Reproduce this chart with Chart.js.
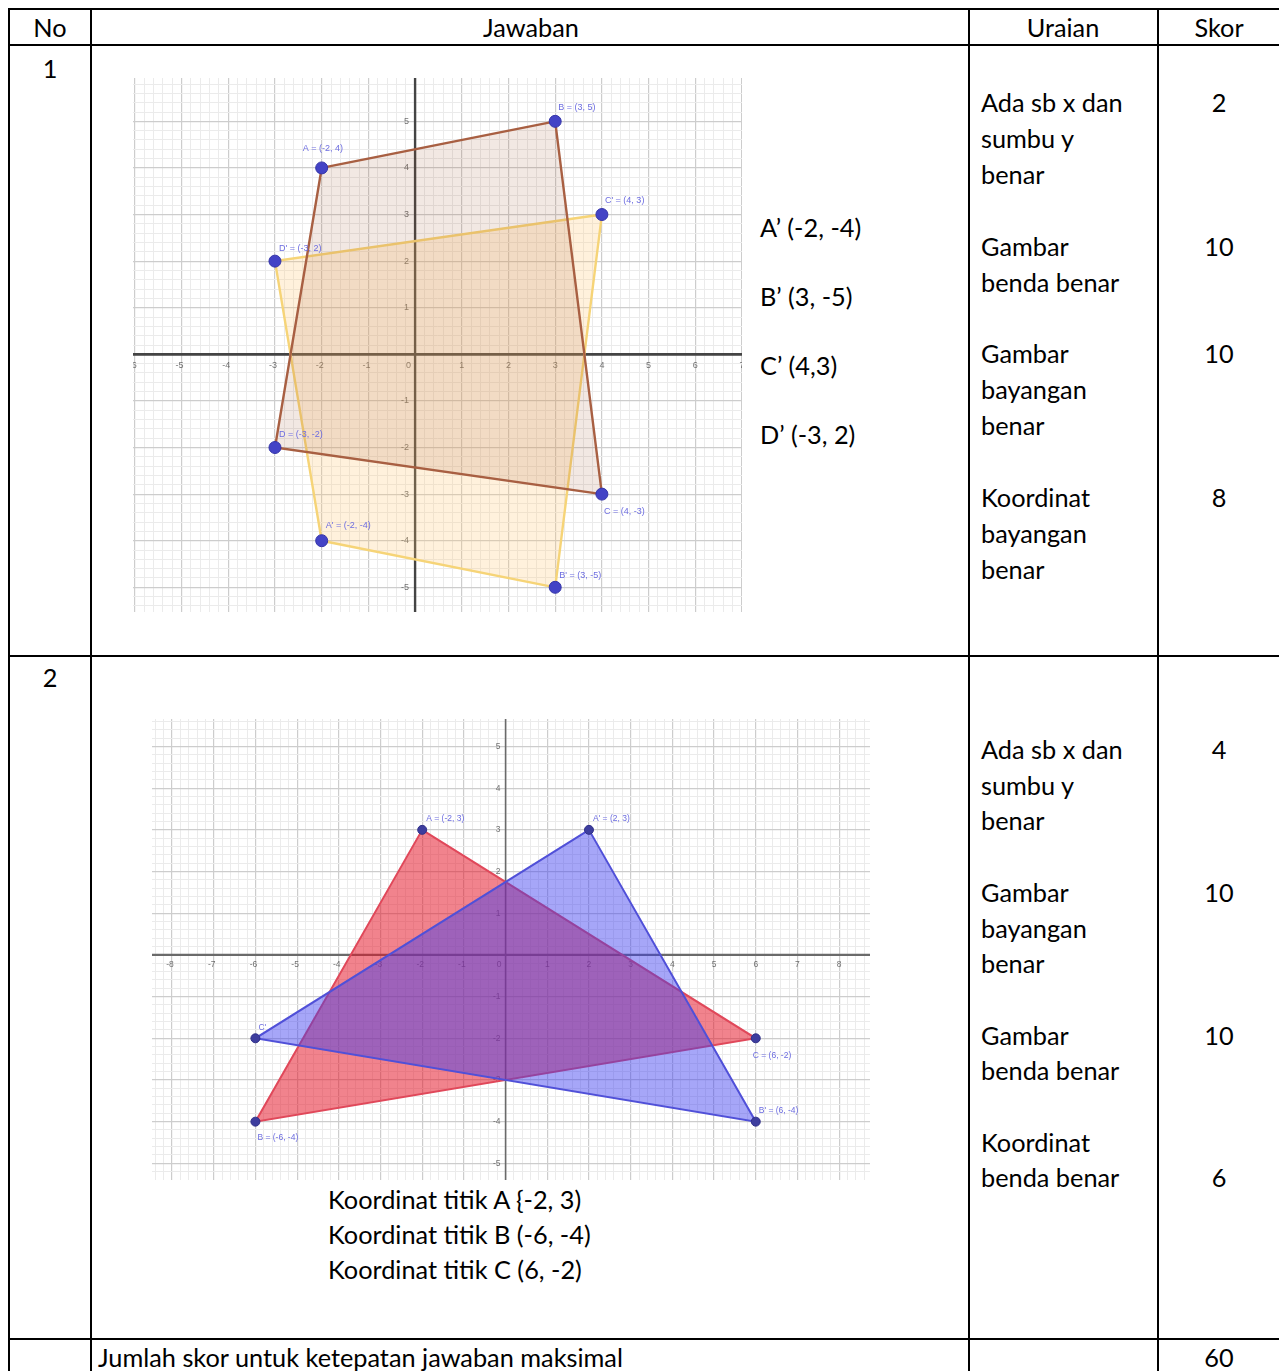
<!DOCTYPE html>
<html>
<head>
<meta charset="utf-8">
<script src="https://cdn.jsdelivr.net/npm/chart.js@4.4.1/dist/chart.umd.min.js"></script>
<style>
  html, body { margin: 0; padding: 0; background: #fff; width: 1279px; height: 1371px; overflow: hidden; }
  #page { position: relative; width: 1279px; height: 1371px; }
  .hl { position: absolute; height: 2px; background: #000; }
  .vl { position: absolute; width: 2px; background: #000; }
  .t { position: absolute; font-family: Lato, "Noto Sans", sans-serif; font-size: 25.3px; line-height: 32px; color: #000; white-space: nowrap; }
  .c { transform: translateX(-50%); }
  canvas.geo { position: absolute; filter: blur(0.45px); }
</style>
</head>
<body>
<div id="page">
  <canvas id="chart1" class="geo" width="609" height="534" style="left:133px;top:78px;width:609px;height:534px"></canvas>
  <canvas id="chart2" class="geo" width="718" height="461" style="left:152px;top:719px;width:718px;height:461px"></canvas>
</div>
<script>
// ---------- Chart 1 data (quadrilateral ABCD and its image A'B'C'D') ----------
const originalNames = ['A', 'B', 'C', 'D'];
const originalX = [-2, 3, 4, -3];
const originalY = [4, 5, -3, -2];
const imageNames = ["A'", "B'", "C'", "D'"];
const imageX = [-2, 3, 4, -3];
const imageY = [-4, -5, 3, 2];
const chart1XTicks = [-6, -5, -4, -3, -2, -1, 0, 1, 2, 3, 4, 5, 6, 7];
const chart1YTicks = [5, 4, 3, 2, 1, -1, -2, -3, -4, -5];

// ---------- Chart 2 data (triangle ABC and its image A'B'C') ----------
const redNames = ['A', 'B', 'C'];
const redX = [-2, -6, 6];
const redY = [3, -4, -2];
const blueNames = ["A'", "B'", "C'"];
const blueX = [2, 6, -6];
const blueY = [3, -4, -2];
const chart2XTicks = [-8, -7, -6, -5, -4, -3, -2, -1, 0, 1, 2, 3, 4, 5, 6, 7, 8];
const chart2YTicks = [5, 4, 3, 2, 1, -1, -2, -3, -4, -5];

// ---------- Table content ----------
const headers = ['No', 'Jawaban', 'Uraian', 'Skor'];
const row1Coords = ['A’ (-2, -4)', 'B’ (3, -5)', 'C’ (4,3)', 'D’ (-3, 2)'];
const row1Uraian = ['Ada sb x dan', 'sumbu y', 'benar', '', 'Gambar', 'benda benar', '', 'Gambar', 'bayangan', 'benar', '', 'Koordinat', 'bayangan', 'benar'];
const row1Skor = ['2', '', '', '', '10', '', '', '10', '', '', '', '8'];
const row2Uraian = ['Ada sb x dan', 'sumbu y', 'benar', '', 'Gambar', 'bayangan', 'benar', '', 'Gambar', 'benda benar', '', 'Koordinat', 'benda benar'];
const row2Skor = ['4', '', '', '', '10', '', '', '', '10', '', '', '', '6'];
const row2Coords = ['Koordinat titik A {-2, 3)', 'Koordinat titik B (-6, -4)', 'Koordinat titik C (6, -2)'];
const totalLabel = 'Jumlah skor untuk ketepatan jawaban maksimal';
const totalScore = '60';

// ---------- Table drawing ----------
const page = document.getElementById('page');
function hline(y, x1, x2) {
  const d = document.createElement('div'); d.className = 'hl';
  d.style.left = x1 + 'px'; d.style.top = (y - 1) + 'px'; d.style.width = (x2 - x1) + 'px';
  page.appendChild(d);
}
function vline(x, y1, y2) {
  const d = document.createElement('div'); d.className = 'vl';
  d.style.left = (x - 1) + 'px'; d.style.top = y1 + 'px'; d.style.height = (y2 - y1) + 'px';
  page.appendChild(d);
}
function txt(s, x, cy, center) {
  if (!s) return;
  const d = document.createElement('div');
  d.className = center ? 't c' : 't';
  d.textContent = s;
  d.style.left = x + 'px';
  d.style.top = (cy - 17) + 'px';
  page.appendChild(d);
}
[9, 45, 656, 1339].forEach(y => hline(y, 8, 1279));
[9, 91, 969, 1158].forEach(x => vline(x, 8, 1371));

const colCenters = [50, 531, 1063, 1219];
headers.forEach((h, i) => txt(h, colCenters[i], 28, true));
txt('1', 50, 69, true);
txt('2', 50, 678, true);
row1Coords.forEach((s, i) => txt(s, 760, 228 + i * 69, false));
row1Uraian.forEach((s, k) => txt(s, 981, 103 + k * 35.9, false));
row1Skor.forEach((s, k) => txt(s, 1219, 103 + k * 35.9, true));
row2Uraian.forEach((s, k) => txt(s, 981, 750 + k * 35.7, false));
row2Skor.forEach((s, k) => txt(s, 1219, 750 + k * 35.7, true));
row2Coords.forEach((s, i) => txt(s, 328, 1200 + i * 35, false));
txt(totalLabel, 98, 1358, false);
txt(totalScore, 1219, 1358, true);

// ---------- Chart helpers ----------
function toPoints(xs, ys) { return xs.map((x, i) => ({ x: x, y: ys[i] })); }
function closed(xs, ys) { const p = toPoints(xs, ys); return p.concat([p[0]]); }
function isMajor(v) { return Math.abs(v - Math.round(v)) < 1e-6; }
function coordLabel(n, x, y) { return n + ' = (' + x + ', ' + y + ')'; }

function gridScale(min, max) {
  return {
    type: 'linear', min: min, max: max,
    ticks: { display: false, stepSize: 0.2, autoSkip: false, includeBounds: false, maxTicksLimit: 1000 },
    grid: {
      drawTicks: false,
      color: c => isMajor(c.tick.value) ? '#cdcdcd' : '#ebebeb',
      lineWidth: c => isMajor(c.tick.value) ? 1.2 : 1
    },
    border: { display: false }
  };
}

// axes (x = 0 and y = 0 lines) and their number labels, drawn through the chart's scales
const axisLabelPlugin = {
  id: 'axisLabels',
  beforeDatasetsDraw(chart, args, o) {
    const { ctx, chartArea: a } = chart; const sx = chart.scales.x, sy = chart.scales.y;
    const x0 = sx.getPixelForValue(0), y0 = sy.getPixelForValue(0);
    ctx.save();
    ctx.strokeStyle = o.axisColor;
    ctx.lineWidth = o.axisWidth;
    ctx.beginPath(); ctx.moveTo(a.left, y0); ctx.lineTo(a.right, y0); ctx.stroke();
    ctx.lineWidth = o.yAxisWidth;
    ctx.beginPath(); ctx.moveTo(x0, a.top); ctx.lineTo(x0, a.bottom); ctx.stroke();
    ctx.font = o.font; ctx.fillStyle = o.color; ctx.textBaseline = 'middle';
    o.xTicks.forEach(v => {
      if (v === 0) { ctx.textAlign = 'right'; ctx.fillText('0', x0 - 4, y0 + o.dy); return; }
      ctx.textAlign = 'center';
      ctx.fillText(String(v), sx.getPixelForValue(v) - (v < 0 ? 2 : 0), y0 + o.dy);
    });
    ctx.textAlign = 'right';
    o.yTicks.forEach(v => ctx.fillText(String(v), x0 - o.dx, sy.getPixelForValue(v)));
    ctx.restore();
  }
};

const pointLabelPlugin = {
  id: 'pointLabels',
  afterDatasetsDraw(chart, args, o) {
    const { ctx } = chart; const sx = chart.scales.x, sy = chart.scales.y;
    ctx.save();
    ctx.font = o.font; ctx.fillStyle = o.color; ctx.textBaseline = 'middle'; ctx.textAlign = 'left';
    o.items.forEach(it => {
      ctx.fillText(it.text, sx.getPixelForValue(it.x) + it.dx, sy.getPixelForValue(it.y) + it.dy);
    });
    ctx.restore();
  }
};

function labelItems(names, xs, ys, offsets, plain) {
  return names.map((n, i) => ({
    text: plain && plain[i] ? n : coordLabel(n, xs[i], ys[i]),
    x: xs[i], y: ys[i], dx: offsets[i][0], dy: offsets[i][1]
  }));
}

// ---------- Chart 1 ----------
const c1OrigOffsets = [[-19, -19], [3, -14], [2, 17], [4, -13]];
const c1ImgOffsets = [[4, -15], [4, -12], [3, -14], [4, -13]];

new Chart(document.getElementById('chart1'), {
  type: 'scatter',
  data: {
    datasets: [
      { label: 'vertices', data: toPoints(originalX, originalY).concat(toPoints(imageX, imageY)),
        pointRadius: 6, pointBackgroundColor: '#4343c6', pointBorderColor: '#3434a8', pointBorderWidth: 1, showLine: false },
      { label: 'ABCD', data: closed(originalX, originalY), showLine: true, tension: 0, pointRadius: 0,
        borderColor: '#a85f42', borderWidth: 2.4, backgroundColor: 'rgba(153,76,40,0.13)', fill: 'shape' },
      { label: "A'B'C'D'", data: closed(imageX, imageY), showLine: true, tension: 0, pointRadius: 0,
        borderColor: '#f6d477', borderWidth: 2.4, backgroundColor: 'rgba(255,196,110,0.24)', fill: 'shape' }
    ]
  },
  options: {
    responsive: false, animation: false, events: [],
    layout: { padding: 0, autoPadding: false },
    scales: { x: gridScale(-6.04, 7.0), y: gridScale(-5.53, 5.93) },
    plugins: {
      legend: { display: false }, tooltip: { enabled: false },
      axisLabels: { xTicks: chart1XTicks, yTicks: chart1YTicks, font: '9px "Liberation Sans"', color: 'rgba(70,70,70,0.75)', dx: 6, dy: 11,
        axisColor: '#444444', axisWidth: 2.8, yAxisWidth: 2.4 },
      pointLabels: { font: '9px "Liberation Sans"', color: '#6d6de0',
        items: labelItems(originalNames, originalX, originalY, c1OrigOffsets)
          .concat(labelItems(imageNames, imageX, imageY, c1ImgOffsets)) }
    }
  },
  plugins: [axisLabelPlugin, pointLabelPlugin]
});

// ---------- Chart 2 ----------
const c2RedOffsets = [[4, -11], [2, 16], [-3, 17]];
const c2BlueOffsets = [[4, -11], [3, -11], [3, -11]];
const c2BluePlain = [false, false, true];

new Chart(document.getElementById('chart2'), {
  type: 'scatter',
  data: {
    datasets: [
      { label: 'vertices', data: toPoints(redX, redY).concat(toPoints(blueX, blueY)),
        pointRadius: 4.5, pointBackgroundColor: '#3d3d9e', pointBorderColor: '#2f2f88', pointBorderWidth: 1, showLine: false },
      { label: "A'B'C'", data: closed(blueX, blueY), showLine: true, tension: 0, pointRadius: 0,
        borderColor: '#5050d8', borderWidth: 2, backgroundColor: 'rgba(60,60,240,0.46)', fill: 'shape' },
      { label: 'ABC', data: closed(redX, redY), showLine: true, tension: 0, pointRadius: 0,
        borderColor: '#e0485a', borderWidth: 2, backgroundColor: 'rgba(229,20,40,0.53)', fill: 'shape' }
    ]
  },
  options: {
    responsive: false, animation: false, events: [],
    layout: { padding: 0, autoPadding: false },
    scales: { x: gridScale(-8.48, 8.74), y: gridScale(-5.40, 5.66) },
    plugins: {
      legend: { display: false }, tooltip: { enabled: false },
      axisLabels: { xTicks: chart2XTicks, yTicks: chart2YTicks, font: '8.5px "Liberation Sans"', color: 'rgba(70,70,70,0.75)', dx: 5, dy: 10,
        axisColor: '#6a6a6a', axisWidth: 2.2, yAxisWidth: 1.6 },
      pointLabels: { font: '8.5px "Liberation Sans"', color: '#6d6de0',
        items: labelItems(redNames, redX, redY, c2RedOffsets)
          .concat(labelItems(blueNames, blueX, blueY, c2BlueOffsets, c2BluePlain)) }
    }
  },
  plugins: [axisLabelPlugin, pointLabelPlugin]
});
</script>
</body>
</html>
